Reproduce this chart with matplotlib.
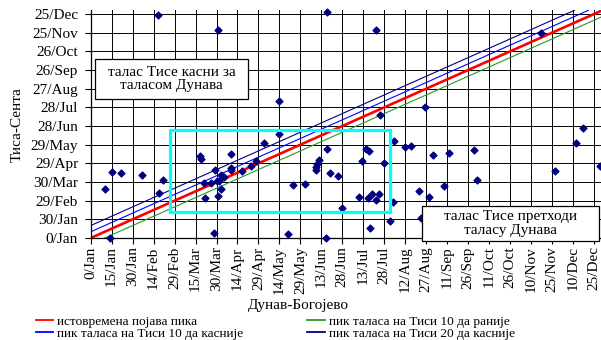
import numpy as np
import matplotlib
matplotlib.use('Agg')
import matplotlib.pyplot as plt
from matplotlib.patches import Rectangle
from matplotlib.lines import Line2D

plt.rcParams['font.family'] = ['Liberation Serif', 'DejaVu Serif']
plt.rcParams['font.size'] = 11

# peak day of year (Excel serial, leap year) on the Danube and the Tisa
dunav_day = [48, 91, 169, 135, 204, 322, 207, 239, 352, 10, 15, 22, 37, 52,
             49, 14, 78, 79, 81, 86, 89, 90, 92, 93, 95, 93, 91, 82, 88, 100,
             100, 100, 108, 115, 118, 124, 135, 145, 153, 141, 161, 161, 162,
             163, 169, 171, 177, 180, 168, 217, 225, 229, 245, 256, 274, 276,
             253, 235, 242, 197, 199, 194, 210, 192, 198, 201, 204, 206, 216,
             214, 200, 332, 347, 364, 236]
tisa_day = [358, 334, 364, 221, 334, 329, 198, 211, 177, 78, 106, 105, 102,
            94, 72, 0, 132, 127, 88, 89, 110, 91, 92, 101, 98, 79, 68, 64, 8,
            135, 113, 110, 108, 115, 123, 153, 167, 85, 86, 7, 110, 114, 119,
            126, 143, 105, 99, 48, 0, 156, 146, 148, 134, 137, 142, 93, 83, 75,
            66, 143, 140, 124, 121, 66, 64, 71, 61, 71, 58, 28, 16, 107, 153,
            115, 32]

x_ticks = list(range(0, 361, 15))
x_labels = ['0/Jan', '15/Jan', '30/Jan', '14/Feb', '29/Feb', '15/Mar',
            '30/Mar', '14/Apr', '29/Apr', '14/May', '29/May', '13/Jun',
            '28/Jun', '13/Jul', '28/Jul', '12/Aug', '27/Aug', '11/Sep',
            '26/Sep', '11/Oct', '26/Oct', '10/Nov', '25/Nov', '10/Dec',
            '25/Dec']
y_ticks = list(range(0, 361, 30))
y_labels = ['0/Jan', '30/Jan', '29/Feb', '30/Mar', '29/Apr', '29/May',
            '28/Jun', '28/Jul', '27/Aug', '26/Sep', '26/Oct', '25/Nov',
            '25/Dec']

# lag of the Tisa peak behind the Danube peak, days
lags = [0, -10, 10, 20]
lag_colors = ['#ff0000', '#259b25', '#0000ff', '#000080']
lag_widths = [1.9, 0.8, 0.8, 0.8]
lag_names = ['истовремена појава пика',
             'пик таласа на Тиси 10 да раније',
             'пик таласа на Тиси 10 да касније',
             'пик таласа на Тиси 20 да касније']

# window of the main overlap (days)
box_x = [57, 214]
box_y = [42, 174]

fig = plt.figure(figsize=(6.01, 3.40), dpi=100)
ax = fig.add_axes([90.7 / 601, 102 / 340, 510.3 / 601, 227.7 / 340])
ax.set_xlim(0, 365)
ax.set_ylim(0, 366)

ax.set_xticks(x_ticks)
ax.set_xticklabels(x_labels, rotation=90)
ax.set_yticks(y_ticks)
ax.set_yticklabels(y_labels)
ax.tick_params(axis='x', length=4, width=0.8, pad=2)
ax.tick_params(axis='y', length=4, width=0.8, pad=5)
ax.grid(True, color='black', lw=0.7)
ax.set_axisbelow(True)
for side in ['top', 'right']:
    ax.spines[side].set_visible(False)
for side in ['left', 'bottom']:
    ax.spines[side].set_linewidth(0.9)

handles = []
for lag, c, lw, name in zip(lags, lag_colors, lag_widths, lag_names):
    ax.axline((0, lag), slope=1, color=c, lw=lw, zorder=2)
    handles.append(Line2D([], [], color=c, lw=1.3, label=name))

ax.scatter(dunav_day, tisa_day, marker='D', s=12, color='#000080',
           zorder=3, clip_on=False)

ax.add_patch(Rectangle((box_x[0], box_y[0]), box_x[1] - box_x[0],
                       box_y[1] - box_y[0], fill=False, ec='#00ffff',
                       lw=2.3, zorder=4))

# annotation boxes
for (x0, y0, x1, y1), txt in [((0.0084, 0.6105, 0.3083, 0.786),
                               'талас Тисе касни за\nталасом Дунава'),
                              ((0.6486, -0.0132, 0.9962, 0.1405),
                               'талас Тисе претходи\nталасу Дунава')]:
    ax.add_patch(Rectangle((x0, y0), x1 - x0, y1 - y0, transform=ax.transAxes,
                           fc='white', ec='black', lw=0.9, zorder=5,
                           clip_on=False))
    ax.text((x0 + x1) / 2, (y0 + y1) / 2, txt, transform=ax.transAxes,
            ha='center', va='center', linespacing=1.05, zorder=6)

fig.text(298 / 601, 35 / 340, 'Дунав-Богојево', ha='center', va='center')
fig.text(17 / 601, 215 / 340, 'Тиса-Сента', ha='center', va='center',
         rotation=90)

order = [0, 2, 1, 3]
fig.legend([handles[i] for i in order], [lag_names[i] for i in order],
           ncol=2, loc='center left', bbox_to_anchor=(29 / 601, 12.5 / 340),
           frameon=False, borderpad=0, fontsize=9.6, labelspacing=0.0,
           handlelength=1.3, handletextpad=0.3, columnspacing=4.8)

fig.savefig('out.png', dpi=100)
